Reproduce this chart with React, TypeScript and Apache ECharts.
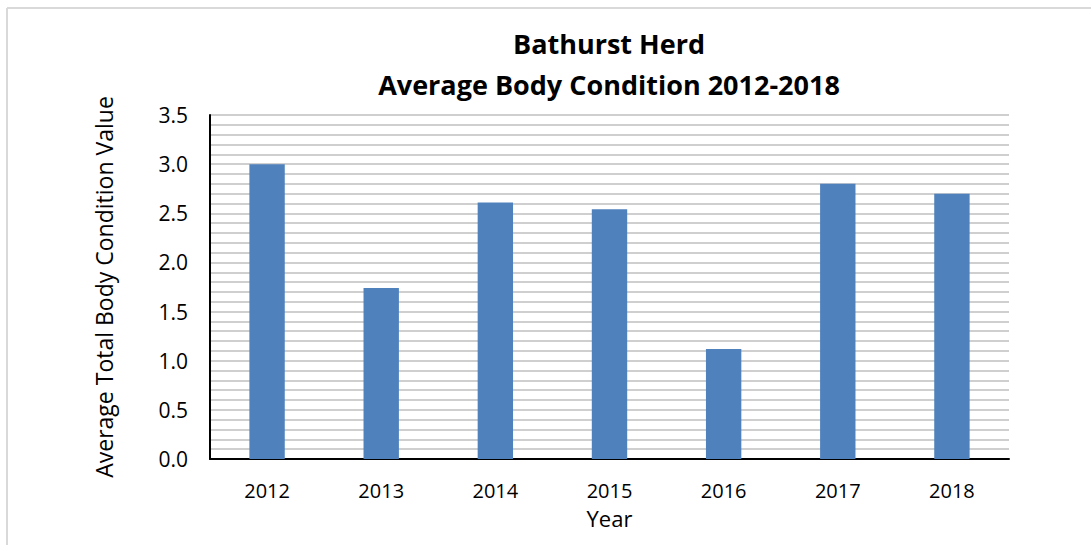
import React, { useEffect, useRef } from "react";
import * as echarts from "echarts";

const years = ["2012", "2013", "2014", "2015", "2016", "2017", "2018"];
const values = [3.0, 1.74, 2.61, 2.54, 1.12, 2.8, 2.7];
const titleLines = ["Bathurst Herd", "Average Body Condition 2012-2018"];
const yAxisName = "Average Total Body Condition Value";
const xAxisName = "Year";

export default function App() {
  const ref = useRef<HTMLDivElement>(null);
  useEffect(() => {
    document.body.style.margin = "0";
    const chart = echarts.init(ref.current!, null, { renderer: "svg" });
    const font = "'Open Sans', 'Liberation Sans', Arial, sans-serif";
    chart.setOption({
      animation: false,
      backgroundColor: "#ffffff",
      title: {
        text: titleLines.join("\n"),
        left: 604,
        top: 18,
        textAlign: "center",
        textStyle: {
          fontFamily: font,
          fontWeight: "bold",
          fontSize: 27,
          lineHeight: 41,
          color: "#000",
        },
      },
      graphic: [
        { type: "line", shape: { x1: 7, y1: 8, x2: 1091, y2: 8 }, style: { stroke: "#d9d9d9", lineWidth: 2 } },
        { type: "line", shape: { x1: 7, y1: 8, x2: 7, y2: 545 }, style: { stroke: "#d9d9d9", lineWidth: 2 } },
      ],
      grid: { left: 210, top: 115, width: 799, height: 344, containLabel: false },
      xAxis: {
        type: "category",
        data: years,
        name: xAxisName,
        nameLocation: "middle",
        nameGap: 48,
        nameTextStyle: { fontFamily: font, fontSize: 22, color: "#000" },
        axisLine: { lineStyle: { color: "#000", width: 2 } },
        axisTick: { show: false },
        axisLabel: { fontFamily: font, fontSize: 20, color: "#000", margin: 21 },
      },
      yAxis: {
        type: "value",
        min: 0,
        max: 3.5,
        interval: 0.5,
        name: yAxisName,
        nameLocation: "middle",
        nameGap: 95,
        nameRotate: 90,
        nameTextStyle: { fontFamily: font, fontSize: 23, color: "#000" },
        axisLine: { show: true, lineStyle: { color: "#000", width: 2 } },
        axisTick: { show: false },
        axisLabel: {
          fontFamily: font,
          fontSize: 21,
          color: "#000",
          margin: 22,
          formatter: (v: number) => v.toFixed(1),
        },
        splitLine: { show: true, lineStyle: { color: "#bfbfbf", width: 1.5 } },
        minorTick: { show: false, splitNumber: 5 },
        minorSplitLine: { show: true, lineStyle: { color: "#bfbfbf", width: 1.5 } },
      },
      series: [
        {
          type: "bar",
          data: values,
          barWidth: "31%",
          itemStyle: { color: "#4f81bd" },
        },
      ],
    });
    return () => chart.dispose();
  }, []);
  return <div ref={ref} style={{ width: 1091, height: 545 }} />;
}
